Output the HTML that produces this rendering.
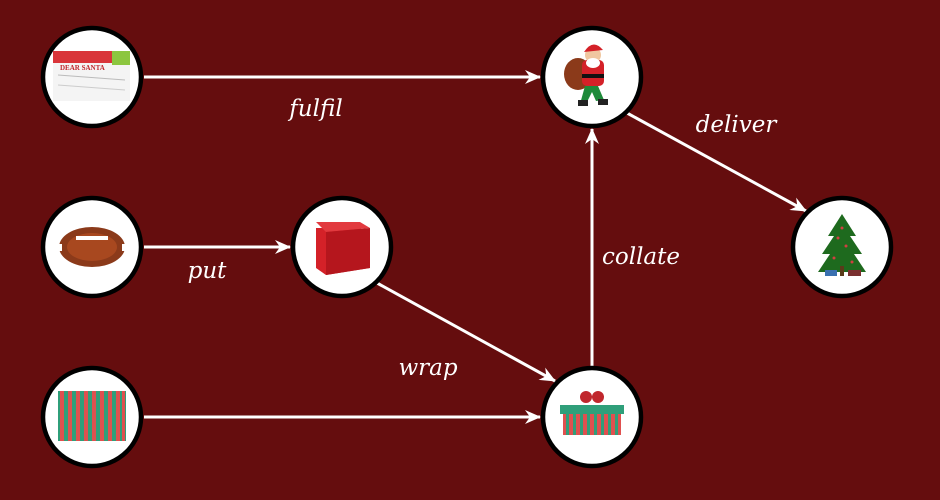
<!DOCTYPE html>
<html><head><style>html,body{margin:0;padding:0;background:#650d0e;}svg{display:block}</style></head>
<body>
<svg width="940" height="500" viewBox="0 0 940 500" xmlns="http://www.w3.org/2000/svg">
<defs>
<marker id="a" markerWidth="18" markerHeight="14" refX="15" refY="7" orient="auto" markerUnits="userSpaceOnUse">
<path d="M0,0 L16,7 L0,14 L5,7 Z" fill="#fff"/>
</marker>
</defs>
<rect width="940" height="500" fill="#650d0e"/>
<g stroke="#fff" stroke-width="3" fill="none" marker-end="url(#a)">
<line x1="144" y1="77" x2="540" y2="77"/>
<line x1="144" y1="247" x2="290" y2="247"/>
<line x1="144" y1="417" x2="540" y2="417"/>
<line x1="377" y1="283" x2="555" y2="381"/>
<line x1="592" y1="366" x2="592" y2="129"/>
<line x1="627" y1="113" x2="806" y2="211"/>
</g>
<g fill="#fff" stroke="#000" stroke-width="4.5">
<circle cx="92" cy="77" r="49"/>
<circle cx="592" cy="77" r="49"/>
<circle cx="842" cy="247" r="49"/>
<circle cx="92" cy="247" r="49"/>
<circle cx="342" cy="247" r="49"/>
<circle cx="92" cy="417" r="49"/>
<circle cx="592" cy="417" r="49"/>
</g>
<!-- letter -->
<rect x="53" y="51" width="77" height="50" fill="#f4f4f4"/>
<rect x="53" y="51" width="77" height="12" fill="#d9353a"/>
<rect x="112" y="51" width="18" height="14" fill="#8cc63f"/>
<text x="60" y="70" font-family="Liberation Serif" font-size="7" font-weight="bold" fill="#c0272d">DEAR SANTA</text>
<line x1="58" y1="75" x2="125" y2="80" stroke="#bbb"/><line x1="58" y1="85" x2="125" y2="90" stroke="#ccc"/>
<!-- football -->
<ellipse cx="92" cy="247" rx="33" ry="20" fill="#8b3a1a"/>
<ellipse cx="92" cy="247" rx="25" ry="14" fill="#a8481f"/>
<rect x="76" y="236" width="32" height="4" fill="#fff"/>
<rect x="59" y="244" width="3" height="7" fill="#fff"/><rect x="122" y="244" width="3" height="7" fill="#fff"/>
<!-- red box -->
<polygon points="316,228 360,228 370,235 370,268 326,275 316,268" fill="#d42128"/>
<polygon points="316,222 360,222 370,228 326,232" fill="#e23a3f"/>
<polygon points="326,232 370,228 370,268 326,275" fill="#b5161d"/>
<!-- stripes -->
<g>
<rect x="58" y="391" width="68" height="50" fill="#2f9f7a"/>
<g fill="#e0504f">
<rect x="60" y="391" width="4" height="50"/><rect x="68" y="391" width="4" height="50"/><rect x="76" y="391" width="4" height="50"/><rect x="84" y="391" width="4" height="50"/><rect x="92" y="391" width="4" height="50"/><rect x="100" y="391" width="4" height="50"/><rect x="108" y="391" width="4" height="50"/><rect x="116" y="391" width="4" height="50"/><rect x="122" y="391" width="3" height="50"/>
</g></g>
<!-- gift -->
<rect x="563" y="411" width="58" height="24" fill="#e0504f"/>
<g fill="#2f9f7a"><rect x="566" y="411" width="3" height="24"/><rect x="573" y="411" width="3" height="24"/><rect x="580" y="411" width="3" height="24"/><rect x="587" y="411" width="3" height="24"/><rect x="594" y="411" width="3" height="24"/><rect x="601" y="411" width="3" height="24"/><rect x="608" y="411" width="3" height="24"/><rect x="615" y="411" width="3" height="24"/></g>
<rect x="560" y="405" width="64" height="9" fill="#2f9f7a"/>
<circle cx="586" cy="397" r="6" fill="#c0272d"/><circle cx="598" cy="397" r="6" fill="#c0272d"/>
<!-- santa -->
<ellipse cx="578" cy="74" rx="14" ry="16" fill="#8b3a1a"/>
<rect x="582" y="60" width="22" height="26" rx="5" fill="#d42128"/>
<rect x="582" y="74" width="22" height="4" fill="#111"/>
<circle cx="593" cy="55" r="8" fill="#f0c7a0"/>
<path d="M584,52 Q593,38 603,50 Z" fill="#d42128"/>
<ellipse cx="593" cy="63" rx="7" ry="5" fill="#fff"/>
<path d="M585,86 L598,86 L604,100 L596,101 L592,92 L586,104 L580,104 Z" fill="#1e8a3a"/>
<rect x="578" y="100" width="10" height="6" fill="#222"/><rect x="598" y="99" width="10" height="6" fill="#222"/>
<!-- tree -->
<polygon points="842,214 828,236 834,236 822,254 830,254 818,272 866,272 854,254 862,254 850,236 856,236" fill="#1e6a1e"/>
<g fill="#d04040"><circle cx="838" cy="238" r="1.5"/><circle cx="846" cy="246" r="1.5"/><circle cx="834" cy="258" r="1.5"/><circle cx="852" cy="262" r="1.5"/><circle cx="842" cy="228" r="1.5"/></g>
<rect x="840" y="266" width="4" height="10" fill="#5a3a1a"/>
<rect x="825" y="270" width="12" height="6" fill="#3a70b0"/><rect x="848" y="270" width="13" height="6" fill="#7a3030"/>
<g font-family="'DejaVu Serif','Liberation Serif',serif" font-style="italic" font-size="23" fill="#fff" text-anchor="middle">
<text x="316" y="116">fulfil</text>
<text x="207" y="278">put</text>
<text x="428" y="375">wrap</text>
<text x="641" y="264">collate</text>
<text x="736" y="132">deliver</text>
</g>
</svg>
</body></html>
